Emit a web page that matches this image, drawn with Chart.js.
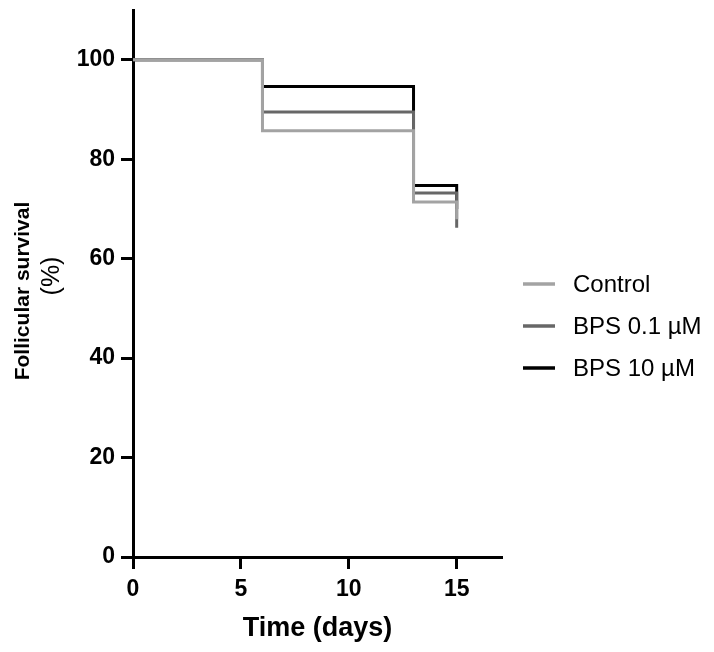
<!DOCTYPE html>
<html>
<head>
<meta charset="utf-8">
<script src="https://cdn.jsdelivr.net/npm/chart.js@4/dist/chart.umd.min.js"></script>
<style>
  html, body { margin: 0; padding: 0; background: #fff; }
  #wrap { width: 714px; height: 652px; }
</style>
</head>
<body>
<div id="wrap"><canvas id="myChart" width="714" height="652"></canvas></div>
<script>
// time points (days) where the curves step
const days = [0, 6, 13, 15];
// survival (%) per group
const control = [100, 85.7, 71.4, 67.9];
const bps01 = [100, 89.5, 73.2, 66.2];
const bps10 = [100, 94.6, 74.7, 70.0];
const labels = ["Control", "BPS 0.1 \u00b5M", "BPS 10 \u00b5M"];
const xTicks = [0, 5, 10, 15];
const yTicks = [0, 20, 40, 60, 80, 100];

const font = "'Liberation Sans', Arial, sans-serif";

let toPoints = (vals) => days.map((d, i) => ({ x: d, y: vals[i] }));

// y title + legend drawn on the canvas after the chart
const extras = {
  id: "extras",
  afterDraw(chart) {
    const ctx = chart.ctx;
    const area = chart.chartArea;
    ctx.save();
    // y axis title, two lines
    ctx.fillStyle = "#000";
    ctx.textAlign = "center";
    ctx.textBaseline = "middle";
    ctx.translate(23, 291);
    ctx.rotate(-Math.PI / 2);
    ctx.font = "bold 21px " + font;
    ctx.fillText("Follicular survival", 0, 0);
    ctx.restore();
    ctx.save();
    ctx.translate(52, 276);
    ctx.rotate(-Math.PI / 2);
    ctx.fillStyle = "#000";
    ctx.textAlign = "center";
    ctx.textBaseline = "middle";
    ctx.font = "25px " + font;
    ctx.fillText("(%)", 0, 0);
    ctx.restore();

    // legend
    ctx.save();
    ctx.font = "24px " + font;
    ctx.textBaseline = "middle";
    ctx.textAlign = "left";
    chart.data.datasets.forEach((ds, i) => {
      const y = 284 + i * 42;
      const x0 = area.right + 21;
      ctx.strokeStyle = ds.borderColor;
      ctx.lineWidth = 3.5;
      ctx.beginPath();
      ctx.moveTo(x0, y);
      ctx.lineTo(x0 + 32, y);
      ctx.stroke();
      ctx.fillStyle = "#000";
      ctx.fillText(ds.label, x0 + 50, y + 1);
    });
    ctx.restore();
  }
};

let ctx = document.getElementById("myChart").getContext("2d");
let myChart = new Chart(ctx, {
  type: "line",
  data: {
    datasets: [
      {
        label: labels[0],
        data: toPoints(control),
        borderColor: "#a3a3a3",
      },
      {
        label: labels[1],
        data: toPoints(bps01),
        borderColor: "#676767",
      },
      {
        label: labels[2],
        data: toPoints(bps10),
        borderColor: "#000000",
      },
    ],
  },
  options: {
    responsive: false,
    animation: false,
    layout: { padding: { top: 10, right: 212, left: 0, bottom: 0 } },
    elements: {
      line: {
        stepped: true,
        borderWidth: 3,
        tension: 0,
        borderCapStyle: "butt",
        borderJoinStyle: "miter",
        fill: false,
      },
      point: { radius: 0, hoverRadius: 0 },
    },
    plugins: {
      legend: { display: false },
      tooltip: { enabled: false },
    },
    scales: {
      x: {
        type: "linear",
        min: 0,
        max: 17.1,
        afterBuildTicks: (s) => {
          s.ticks = xTicks.map((v) => ({ value: v }));
        },
        afterFit: (s) => {
          s.height = 95;
          s.paddingRight = 0;
        },
        ticks: {
          color: "#000",
          padding: 7,
          maxRotation: 0,
          font: { family: font, size: 23, weight: "bold" },
        },
        grid: {
          drawOnChartArea: false,
          drawTicks: true,
          tickLength: 12,
          tickWidth: 3,
          tickColor: "#000",
        },
        border: { color: "#000", width: 3 },
        title: {
          display: true,
          text: "Time (days)",
          color: "#000",
          padding: { top: 4, bottom: 7 },
          font: { family: font, size: 27, weight: "bold" },
        },
      },
      y: {
        type: "linear",
        min: 0,
        max: 110,
        afterBuildTicks: (s) => {
          s.ticks = yTicks.map((v) => ({ value: v }));
        },
        afterFit: (s) => {
          s.width = 133;
          s.paddingTop = 0;
          s.paddingBottom = 0;
        },
        ticks: {
          color: "#000",
          padding: 6,
          font: { family: font, size: 23, weight: "bold" },
        },
        grid: {
          drawOnChartArea: false,
          drawTicks: true,
          tickLength: 12,
          tickWidth: 3,
          tickColor: "#000",
        },
        border: { color: "#000", width: 3 },
      },
    },
  },
  plugins: [extras],
});
</script>
</body>
</html>
